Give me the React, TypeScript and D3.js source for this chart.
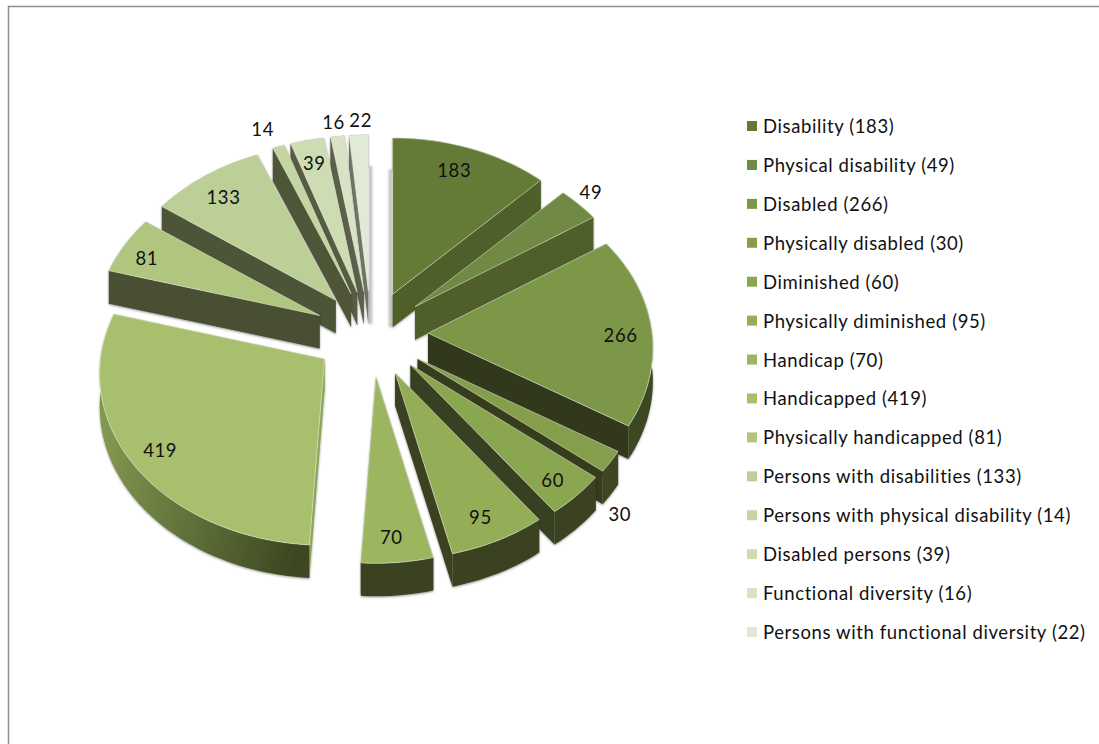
// App.tsx
import React from 'react';
import * as d3 from 'd3';

const categories = [
  'Disability', 'Physical disability', 'Disabled', 'Physically disabled', 'Diminished',
  'Physically diminished', 'Handicap', 'Handicapped', 'Physically handicapped',
  'Persons with disabilities', 'Persons with physical disability', 'Disabled persons',
  'Functional diversity', 'Persons with functional diversity',
];
const values = [183, 49, 266, 30, 60, 95, 70, 419, 81, 133, 14, 39, 16, 22];

const topColors = [
  '#647b38', '#708945', '#7c9748', '#849e4c', '#8ba650', '#94ae58', '#9bb65f',
  '#a8c06d', '#b0c67f', '#bbcf96', '#c3d5a3', '#cedcb4', '#d8e3c5', '#e1ead6',
];
const cutColors = [
  '#4f5e2b', '#4f5e2b', '#33391b', '#353c1c', '#384020', '#3a4220', '#3b4320',
  '#8ea65a', '#484f33', '#4e5538', '#505639', '#565c42', '#5a6049', '#6f7464',
];
const rimColors = [
  '#4f5e2b', '#4f5e2b', '#3e4722', '#3c4420', '#3a4220', '#3a4220', '#3b4320',
  'url(#rimGrad)', '#484f33', '#4e5538', '#505639', '#565c42', '#5a6049', '#6f7464',
];
// label offset from the middle of each slice's rim
const labelNudge = [
  [-17, 21], [12, -12], [-31, 5], [9, 53], [-24, -15], [-18, -23], [-6, -25],
  [28, -13], [22, 13], [18, 21], [-16, -18], [7, 23], [-4, -14], [2, -15],
];

const width = 1099;
const height = 744;
const cx = 371;
const cy = 334;
const rx = 224;
const ry = 170;
const persp = 0.088;
const explodeX = 57;
const explodeY = 43;
const depth = 33;

// tilted disc with a little perspective, front edge is bigger
const disc = (a: number): [number, number] => {
  const X = Math.sin(a);
  const Y = -Math.cos(a);
  const p = 1 / (1 - persp * Y);
  return [rx * X * p, ry * Y * p];
};

const line = d3.line<[number, number]>();
const pieAngles = d3.pie<number>().sort(null)(values);

const slices = pieAngles.map((d, i) => {
  const mid = (d.startAngle + d.endAngle) / 2;
  const apex: [number, number] = [cx + explodeX * Math.sin(mid), cy - explodeY * Math.cos(mid)];
  const at = (a: number): [number, number] => {
    const [x, y] = disc(a);
    return [apex[0] + x, apex[1] + y];
  };
  const steps = Math.max(2, Math.ceil((d.endAngle - d.startAngle) / 0.03));
  const arc = d3.range(steps + 1).map(k => at(d.startAngle + ((d.endAngle - d.startAngle) * k) / steps));
  const rimMid = at(mid);
  return { i, mid, apex, arc, rimMid };
});

// back slices first, front ones painted over them
const drawOrder = [...slices].sort((a, b) => Math.cos(b.mid) - Math.cos(a.mid));

const down = (p: [number, number]): [number, number] => [p[0], p[1] + depth];
const extrude = (pts: [number, number][]) => line([...pts, ...pts.map(down).reverse()]) + 'Z';

// grey strips either side of the gap at twelve o'clock
const backStrip = (first: boolean) => {
  const s = first ? slices[0] : slices[slices.length - 1];
  const rim = first ? s.arc[0] : s.arc[s.arc.length - 1];
  const side = first ? -4 : 4;
  const top: [number, number] = [s.apex[0] + (rim[0] - s.apex[0]) * 0.8, s.apex[1] + (rim[1] - s.apex[1]) * 0.8];
  const bottom = down(s.apex);
  return line([top, [top[0] + side, top[1]], [bottom[0] + side, bottom[1]], bottom]) + 'Z';
};

const legendY = d3.scalePoint<number>().domain(d3.range(values.length)).range([126, 632]);
const fontFamily = 'Lato, "Open Sans", sans-serif';

export default function App() {
  return (
    <svg width={width} height={height} style={{ position: 'absolute', left: 0, top: 0, background: '#fff' }}>
      <defs>
        <linearGradient id="rimGrad" gradientUnits="userSpaceOnUse" x1="100" y1="460" x2="305" y2="520">
          <stop offset="0" stopColor="#82974f" />
          <stop offset="0.5" stopColor="#5f7039" />
          <stop offset="1" stopColor="#3e4722" />
        </linearGradient>
        <filter id="shade" x="-20%" y="-20%" width="140%" height="140%">
          <feDropShadow dx="0" dy="1" stdDeviation="1.3" floodColor="#000" floodOpacity="0.4" />
        </filter>
        <filter id="soft" x="-100%" y="-10%" width="300%" height="120%">
          <feGaussianBlur stdDeviation="0.8" />
        </filter>
      </defs>
      <path d={`M8.5,${height}V6.5H${width}`} fill="none" stroke="#8e8e8e" strokeWidth={1.5} />

      <path d={backStrip(true)} fill="#c2c2c2" filter="url(#soft)" />
      <path d={backStrip(false)} fill="#c2c2c2" filter="url(#soft)" />

      {drawOrder.map(s => (
        <g key={s.i}>
          <g filter="url(#shade)">
            <path d={extrude([s.apex, s.arc[0]])} fill={cutColors[s.i]} />
            <path d={extrude([s.apex, s.arc[s.arc.length - 1]])} fill={cutColors[s.i]} />
            <path d={extrude(s.arc)} fill={rimColors[s.i]} />
          </g>
          <path
            d={line([s.apex, ...s.arc]) + 'Z'}
            fill={topColors[s.i]}
            stroke="#e4ead6"
            strokeOpacity={0.7}
            strokeWidth={0.8}
          />
        </g>
      ))}

      {slices.map(s => (
        <text
          key={s.i}
          x={s.rimMid[0] + labelNudge[s.i][0]}
          y={s.rimMid[1] + labelNudge[s.i][1]}
          textAnchor="middle"
          dominantBaseline="central"
          fontFamily={fontFamily}
          fontSize={18.5}
          letterSpacing={0.6}
          fill="#111"
        >
          {values[s.i]}
        </text>
      ))}

      {categories.map((c, i) => (
        <g key={c} transform={`translate(0,${legendY(i)})`}>
          <rect x={747} y={-5} width={10} height={10} fill={topColors[i]} />
          <text
            x={763}
            y={0}
            dominantBaseline="central"
            fontFamily={fontFamily}
            fontSize={18.5}
            letterSpacing={0.6}
            fill="#111"
          >
            {`${c} (${values[i]})`}
          </text>
        </g>
      ))}
    </svg>
  );
}
